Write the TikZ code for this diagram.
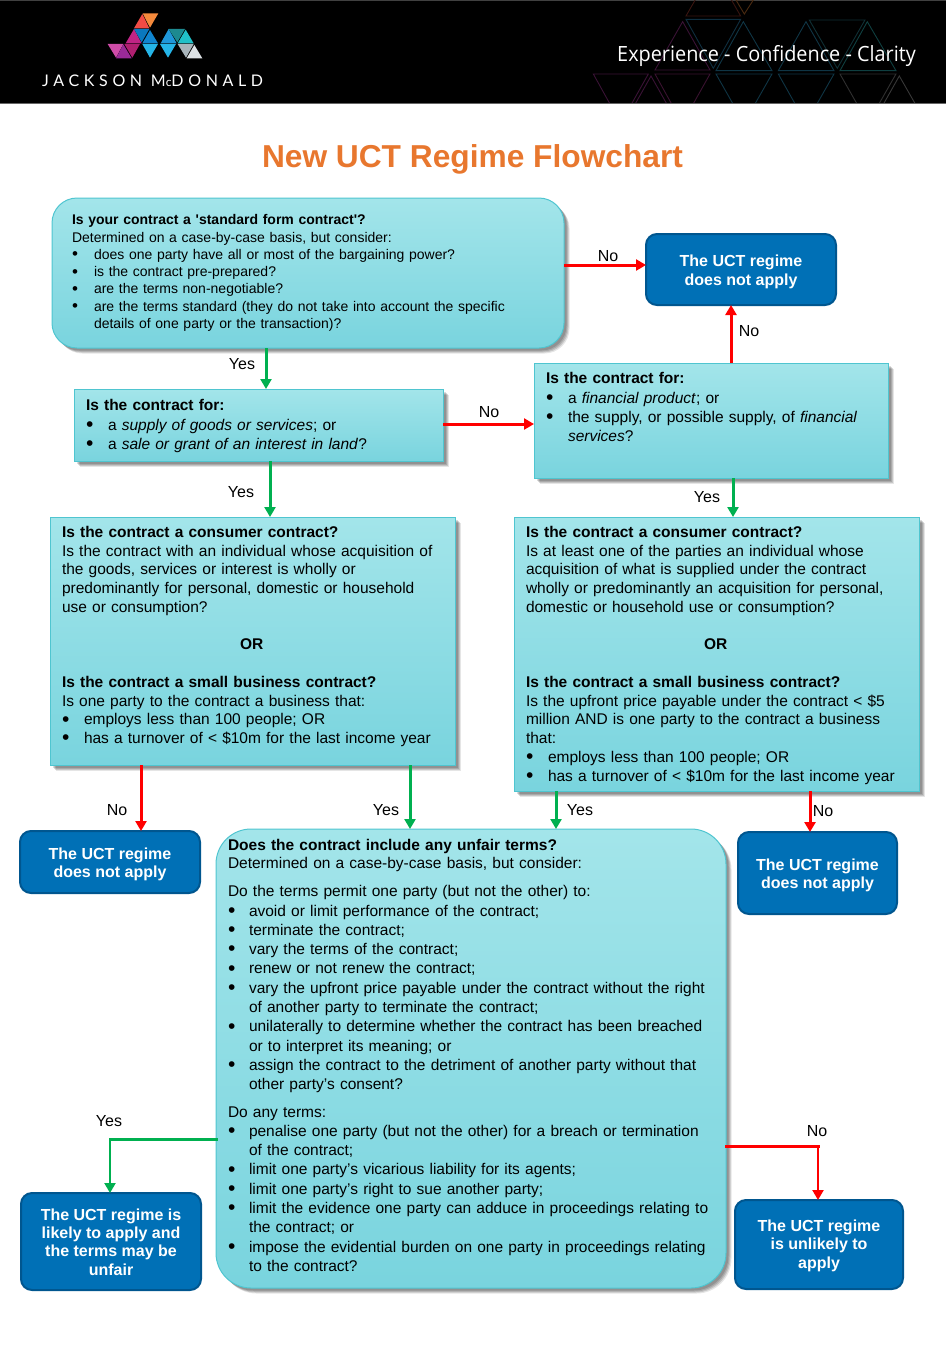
\documentclass[tikz,border=0pt]{standalone}
\usepackage{fontspec}
\usetikzlibrary{arrows.meta, shadows}
\newfontfamily\arialfont{Liberation Sans}
\newfontfamily\sloganfont[FakeStretch = 0.946]{Open Sans}
\newfontfamily\logofont[LetterSpace = 29]{Lato}
\definecolor{qtop}{HTML}{A3E5EA}
\definecolor{qbottom}{HTML}{79D4DE}
\definecolor{qedge}{HTML}{4FC5D0}
\definecolor{uctblue}{HTML}{0070B6}
\definecolor{uctedge}{HTML}{00568F}
\definecolor{yesgreen}{HTML}{00B050}
\definecolor{nored}{HTML}{FF0000}
\definecolor{titleorange}{HTML}{E8772E}
\tikzset{softshadow/.style = {
    general shadow = {fill = black, opacity = .14, shadow xshift = 2.5pt, shadow yshift = -2.5pt},
    general shadow = {fill = black, opacity = .14, shadow xshift = 3.5pt, shadow yshift = -3.5pt},
    general shadow = {fill = black, opacity = .14, shadow xshift = 4.5pt, shadow yshift = -4.5pt},
    general shadow = {fill = black, opacity = .10, shadow xshift = 5.5pt, shadow yshift = -5.5pt}
    }
}
\tikzset{qbox/.style = {
    softshadow, draw = qedge, line width = 1pt, top color = qtop, bottom color = qbottom,
    anchor = north west, align = left, outer sep = 0pt, inner ysep = 0pt, inner xsep = 12pt,
    font = \arialfont\fontsize{15.5}{18.75}\selectfont
    }
}
\tikzset{uctbox/.style = {
    draw = uctedge, line width = 2pt, fill = uctblue, text = white, rounded corners = 11pt,
    anchor = north west, align = center, outer sep = 0pt, inner sep = 0pt,
    font = \arialfont\bfseries\fontsize{16}{18.4}\selectfont
    }
}
\tikzset{branchlabel/.style = {font = \arialfont\fontsize{16}{18}\selectfont, inner sep = 0pt}}
\tikzset{yesline/.style = {draw = yesgreen, line width = 3pt, -{Triangle[length = 10pt, width = 11pt]}}}
\tikzset{noline/.style = {draw = nored, line width = 3pt, -{Triangle[length = 10pt, width = 11pt]}}}
\newcommand{\blt}[1][22pt]{\makebox[#1][l]{\raisebox{-1.2pt}{\fontsize{21}{18}\selectfont\textbullet}}}
\newcommand{\smallblt}{\makebox[22pt][l]{\raisebox{-.6pt}{\fontsize{17}{17}\selectfont\textbullet}}}
\newcommand{\toplift}{\rule{0pt}{16pt}}
\begin{document}
\begin{tikzpicture}[x = 1pt, y = -1pt]

    \useasboundingbox (0,0) rectangle (946,1357);

    % header band
    \fill[black] (0,0) rectangle (946,103);
    \fill[black!75] (0,0) rectangle (946,1);
    \fill[black!60] (0,103) rectangle (946,104);

    \begin{scope}[shift = {(580,0)}, x = 0.3333pt, y = -0.3333pt, line width = 0.9pt]
        \clip (-40,3) rectangle (1100,309);
        \foreach \col/\ax/\ay/\bx/\by/\cx/\cy in {
            3A1510/318/48/482/48/400/-95, 4A2A10/468/0/520/0/493/42,
            3A1235/308/65/225/210/390/210, 0F2F40/318/58/482/58/400/205,
            0F3545/490/65/408/212/576/212, 0F3545/678/65/595/212/762/212,
            0F3035/688/60/855/60/772/205, 0F3F40/862/65/780/212/948/212,
            3A1235/40/222/205/222/122/370, 3A1235/213/228/130/375/296/375,
            3A1230/225/222/390/222/307/370, 0F3545/408/222/576/222/492/370,
            0F3545/595/222/762/222/678/370, 303030/780/222/948/222/864/370,
            383838/958/228/875/375/1042/375}
        {
            \definecolor{tricol}{HTML}{\col}
            \draw[tricol] (\ax,\ay) -- (\bx,\by) -- (\cx,\cy) -- cycle;
        }
    \end{scope}

    \begin{scope}[shift = {(90,5)}, x = 0.3333pt, y = -0.3333pt]
        \foreach \col/\ax/\ay/\bx/\by/\cx/\cy in {
            F04B45/157/27/132/70/178/70, F58A3C/158/25/205/25/180/68,
            C02485/132/72/107/115/155/115, 0A78BE/132/72/178/72/155/112,
            1085D0/180/75/157/115/204/115, 1F97DA/236/72/212/115/260/115,
            1D8A90/236/72/285/72/262/112, 20C0C8/287/74/263/115/311/115,
            CF4CA8/53/117/100/117/78/158, 9A2A98/100/118/78/160/125/160,
            B01F70/103/117/150/117/127/158, 25B5E8/157/117/204/117/180/158,
            25B5E8/210/117/258/117/234/158, A8B4BA/263/117/311/117/288/158,
            DDE2E5/313/120/290/160/337/160}
        {
            \definecolor{tricol}{HTML}{\col}
            \fill[tricol] (\ax,\ay) -- (\bx,\by) -- (\cx,\cy) -- cycle;
        }
    \end{scope}

    \node (logotext) [anchor = base west, inner sep = 0pt, text = white, font = \logofont\fontsize{16}{18}\selectfont] at (42,86) {JACKSON M\raisebox{0pt}{\fontsize{12}{12}\selectfont c}DONALD};
    \node (slogan) [anchor = base west, inner sep = 0pt, text = white, font = \sloganfont\fontsize{21}{24}\selectfont] at (617,61) {Experience - Confidence - Clarity};
    \node (title) [inner sep = 0pt, text = titleorange, font = \arialfont\bfseries\fontsize{31.7}{36}\selectfont] at (472.5,159) {New UCT Regime Flowchart};

    % question boxes
    \draw
    (52,198) node (stdform) [qbox, rounded corners = 25pt, minimum width = 512pt, minimum height = 150pt,
        inner xsep = 20pt, text width = 472pt, font = \arialfont\fontsize{14}{17.3}\selectfont]{
        \textbf{Is your contract a 'standard form contract'?}\\
        Determined on a case-by-case basis, but consider:\\
        \smallblt does one party have all or most of the bargaining power?\\
        \smallblt is the contract pre-prepared?\\
        \smallblt are the terms non-negotiable?\\
        \smallblt are the terms standard (they do not take into account the specific\\
        \hspace*{22pt}details of one party or the transaction)?}
    (74,389) node (supplyq) [qbox, minimum width = 369pt, minimum height = 72pt, text width = 345pt,
        font = \arialfont\fontsize{15.5}{19.5}\selectfont]{
        \rule{0pt}{13.5pt}\textbf{Is the contract for:}\\
        \blt a \textit{supply of goods or services}; or\\
        \blt a \textit{sale or grant of an interest in land}?}
    (534,363) node (financeq) [qbox, minimum width = 354pt, minimum height = 115pt, text width = 330pt,
        font = \arialfont\fontsize{15.5}{19.3}\selectfont]{
        \textbf{Is the contract for:}\\
        \blt a \textit{financial product}; or\\
        \blt the supply, or possible supply, of \textit{financial}\\
        \hspace*{22pt}\textit{services}?\\
        \mbox{}\\[-12pt]
        \mbox{}}
    (50,517) node (consumerl) [qbox, minimum width = 405pt, minimum height = 248pt, text width = 381pt]{
        \textbf{Is the contract a consumer contract?}\\
        Is the contract with an individual whose acquisition of\\
        the goods, services or interest is wholly or\\
        predominantly for personal, domestic or household\\
        use or consumption?\\[18.75pt]
        \hspace*{178pt}\textbf{OR}\\[18.75pt]
        \textbf{Is the contract a small business contract?}\\
        Is one party to the contract a business that:\\
        \blt employs less than 100 people; OR\\
        \blt has a turnover of < \$10m for the last income year\\[-6.75pt]
        \mbox{}}
    (514,517) node (consumerr) [qbox, minimum width = 405pt, minimum height = 274pt, text width = 381pt]{
        \rule{0pt}{13.5pt}\textbf{Is the contract a consumer contract?}\\
        Is at least one of the parties an individual whose\\
        acquisition of what is supplied under the contract\\
        wholly or predominantly an acquisition for personal,\\
        domestic or household use or consumption?\\[18.75pt]
        \hspace*{178pt}\textbf{OR}\\[18.75pt]
        \textbf{Is the contract a small business contract?}\\
        Is the upfront price payable under the contract < \$5\\
        million AND is one party to the contract a business\\
        that:\\
        \blt employs less than 100 people; OR\\
        \blt has a turnover of < \$10m for the last income year}
    (216,829) node (unfairq) [qbox, rounded corners = 35pt, minimum width = 510pt, minimum height = 459pt, text width = 486pt,
        font = \arialfont\fontsize{15.5}{19.3}\selectfont]{
        \textbf{Does the contract include any unfair terms?}\\[-1pt]
        Determined on a case-by-case basis, but consider:\\[9pt]
        Do the terms permit one party (but not the other) to:\\
        \blt[21pt]avoid or limit performance of the contract;\\
        \blt[21pt]terminate the contract;\\
        \blt[21pt]vary the terms of the contract;\\
        \blt[21pt]renew or not renew the contract;\\
        \blt[21pt]vary the upfront price payable under the contract without the right\\
        \hspace*{21pt}of another party to terminate the contract;\\
        \blt[21pt]unilaterally to determine whether the contract has been breached\\
        \hspace*{21pt}or to interpret its meaning; or\\
        \blt[21pt]assign the contract to the detriment of another party without that\\
        \hspace*{21pt}other party’s consent?\\[8pt]
        Do any terms:\\
        \blt[21pt]penalise one party (but not the other) for a breach or termination\\
        \hspace*{21pt}of the contract;\\
        \blt[21pt]limit one party’s vicarious liability for its agents;\\
        \blt[21pt]limit one party’s right to sue another party;\\
        \blt[21pt]limit the evidence one party can adduce in proceedings relating to\\
        \hspace*{21pt}the contract; or\\
        \blt[21pt]impose the evidential burden on one party in proceedings relating\\
        \hspace*{21pt}to the contract?\\[-12.6pt]
        \mbox{}}
    ;

    % outcome boxes
    \draw
    (646,234) node (outtop) [uctbox, minimum width = 190pt, minimum height = 71pt]{\toplift The UCT regime\\does not apply}
    (20,831) node (outleft) [uctbox, minimum width = 180pt, minimum height = 62pt]{\toplift The UCT regime\\does not apply}
    (738,832) node (outright) [uctbox, minimum width = 159pt, minimum height = 82pt]{\toplift The UCT regime\\does not apply}
    (21,1193) node (outlikely) [uctbox, minimum width = 180pt, minimum height = 97pt]{\rule{0pt}{12.5pt}The UCT regime is\\likely to apply and\\the terms may be\\unfair}
    (735,1200) node (outunlikely) [uctbox, minimum width = 168pt, minimum height = 89pt]{\rule{0pt}{14pt}The UCT regime\\is unlikely to\\apply}
    ;

    % connectors
    \coordinate (elbowyes) at (110,1139);
    \coordinate (elbowno) at (818,1146);
    \draw[noline] (stdform.east |- 0,265) -- (outtop.west |- 0,265);
    \draw[noline] (financeq.north -| 731,0) -- (outtop.south -| 731,0);
    \draw[yesline] (stdform.south -| 266,0) -- (supplyq.north -| 266,0);
    \draw[noline] (supplyq.east |- 0,424) -- (financeq.west |- 0,424);
    \draw[yesline] (supplyq.south -| 270,0) -- (consumerl.north -| 270,0);
    \draw[yesline] (financeq.south -| 733,0) -- (consumerr.north -| 733,0);
    \draw[noline] (consumerl.south -| 141,0) -- (outleft.north -| 141,0);
    \draw[yesline] (consumerl.south -| 410,0) -- (unfairq.north -| 410,0);
    \draw[yesline] (consumerr.south -| 556,0) -- (unfairq.north -| 556,0);
    \draw[noline] (consumerr.south -| 810,0) -- (outright.north -| 810,0);
    \draw[yesgreen, line width = 3pt, line cap = rect] (unfairq.west |- elbowyes) -- (elbowyes);
    \draw[yesline, line width = 2.2pt] (elbowyes) -- (outlikely.north -| elbowyes);
    \draw[nored, line width = 3pt, line cap = rect] (unfairq.east |- elbowno) -- (elbowno);
    \draw[noline, line width = 2.2pt] (elbowno) -- (outunlikely.north -| elbowno);

    % branch labels
    \node (labela) [branchlabel] at (608,256) {No};
    \node (labelb) [branchlabel] at (749,331) {No};
    \node (labelc) [branchlabel] at (242,364) {Yes};
    \node (labeld) [branchlabel] at (489,412) {No};
    \node (labele) [branchlabel] at (241,492) {Yes};
    \node (labelf) [branchlabel] at (707,497) {Yes};
    \node (labelg) [branchlabel] at (117,810) {No};
    \node (labelh) [branchlabel] at (386,810) {Yes};
    \node (labeli) [branchlabel] at (580,810) {Yes};
    \node (labelj) [branchlabel] at (823,811) {No};
    \node (labelk) [branchlabel] at (109,1121) {Yes};
    \node (labell) [branchlabel] at (817,1131) {No};

\end{tikzpicture}
\end{document}
